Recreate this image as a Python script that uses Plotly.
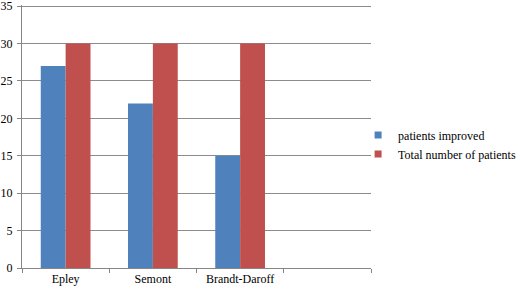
import plotly.graph_objects as go

categories = ["Epley", "Semont", "Brandt-Daroff", " "]
improved = [27, 22, 15, None]
total = [30, 30, 30, None]
y_ticks = [0, 5, 10, 15, 20, 25, 30, 35]
series_names = ["patients improved", "Total number of patients"]
colors = ["#4F81BD", "#C0504D"]

font = "Liberation Serif"

fig = go.Figure()
for vals, name, col in zip([improved, total], series_names, colors):
    fig.add_trace(go.Bar(x=categories, y=vals, name=name, showlegend=False,
                         marker=dict(color=col, line=dict(width=0))))
for name, col in zip(series_names, colors):
    fig.add_trace(go.Scatter(x=[None], y=[None], mode="markers", name=name,
                             marker=dict(symbol="square", size=7, color=col)))

fig.update_layout(
    width=520, height=290,
    margin=dict(l=22, r=149, t=5, b=22, autoexpand=False),
    paper_bgcolor="white", plot_bgcolor="white",
    barmode="group", bargap=0.43, bargroupgap=0,
    font=dict(family=font, size=12, color="black"),
    showlegend=True,
    legend=dict(x=0.963, y=0.47, xanchor="left", yanchor="middle",
                font=dict(family=font, size=12, color="black"),
                itemwidth=30, tracegroupgap=0, bgcolor="rgba(0,0,0,0)"),
    xaxis=dict(type="category", tickson="boundaries", ticks="outside", tickangle=0,
               ticklen=4, tickcolor="#868686", showline=True, linecolor="#868686",
               linewidth=1, showgrid=False, automargin=False,
               tickfont=dict(family=font, size=12)),
    yaxis=dict(range=[0, 35.15], tickvals=y_ticks, ticks="outside", ticklen=4,
               tickcolor="#868686", showline=True, linecolor="#868686",
               linewidth=1, showgrid=True, gridcolor="#8c8c8c", gridwidth=1,
               zeroline=False, automargin=False, ticklabelstandoff=2,
               ticklabeloverflow="allow",
               tickfont=dict(family=font, size=12)),
)
fig.write_html("out.html", config={"displayModeBar": False},
               post_script="document.body.style.margin='0';document.body.style.overflow='hidden';")
